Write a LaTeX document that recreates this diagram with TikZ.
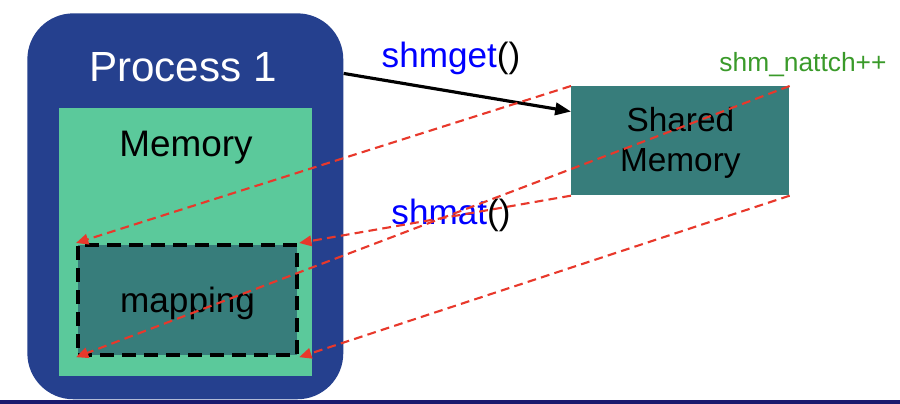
\documentclass[tikz,border=0pt]{standalone}
\usepackage{fontspec}
\setmainfont{Liberation Sans}
\usetikzlibrary{arrows.meta, positioning}

\definecolor{procblue}{RGB}{37,64,142}
\definecolor{memgreen}{RGB}{91,201,155}
\definecolor{shmteal}{RGB}{55,125,123}
\definecolor{projred}{RGB}{232,56,43}
\definecolor{cntgreen}{RGB}{58,154,42}
\definecolor{rulenavy}{RGB}{26,26,110}

\begin{document}
\begin{tikzpicture}[
    x=0.02cm, y=-0.02cm,
    every node/.style={font=\fontsize{20}{24}\selectfont},
    box/.style={rectangle, inner sep=0pt, anchor=north west},
    procbox/.style={box, fill=procblue, rounded corners=0.92cm, minimum width=6.32cm, minimum height=7.72cm},
    membox/.style={box, fill=memgreen, minimum width=5.06cm, minimum height=5.36cm},
    mapbox/.style={box, fill=shmteal, draw=black, line width=2.4pt, dash pattern=on 8pt off 4.5pt, minimum width=4.38cm, minimum height=2.2cm, text depth=0pt},
    shmbox/.style={box, fill=shmteal, minimum width=4.36cm, minimum height=2.18cm, align=center, text depth=2pt, font=\fontsize{19}{22.7}\selectfont},
    title/.style={anchor=base, inner sep=0pt},
    call/.style={anchor=base, inner sep=0pt, text=blue},
    arr/.style={-{Triangle[length=9pt,width=7pt]}, line width=1.8pt},
    proj/.style={-{Triangle[length=7pt,width=6pt]}, projred, line width=1.2pt, dash pattern=on 5pt off 3pt}
]
    \useasboundingbox (0,0) rectangle (900,404);

    % Process with its memory
    \node[procbox] (process) at (27,13) {};
    \node[title, text=white, font=\fontsize{24}{28}\selectfont] (proctitle) at (183,82) {Process 1};
    \node[membox] (memory) at (59,108) {};
    \node[title, font=\fontsize{21}{25}\selectfont] (memtitle) at (186,157) {Memory};
    \node[mapbox] (mapping) at (76,243) {mapping};

    % Shared memory segment
    \node[shmbox] (shm) at (571,86) {Shared\\Memory};
    \node[title, text=cntgreen, font=\fontsize{15}{18}\selectfont] (nattch) at (803,72) {shm\_nattch++};

    % System calls
    \node[call] (getcall) at (451,68) {shmget\textcolor{black}{()}};
    \node[call] (atcall) at (451,225) {shmat\textcolor{black}{()}};

    % Arrows
    \draw[arr] (process.40) -- (shm.165);
    \draw[proj] (shm.north west) -- (mapping.north west);
    \draw[proj] (shm.north east) -- (mapping.south west);
    \draw[proj] (shm.south west) -- (mapping.north east);
    \draw[proj] (shm.south east) -- (mapping.south east);

    % Bottom rule
    \draw[rulenavy, line width=2pt] (0,402) -- (900,402);
\end{tikzpicture}
\end{document}
